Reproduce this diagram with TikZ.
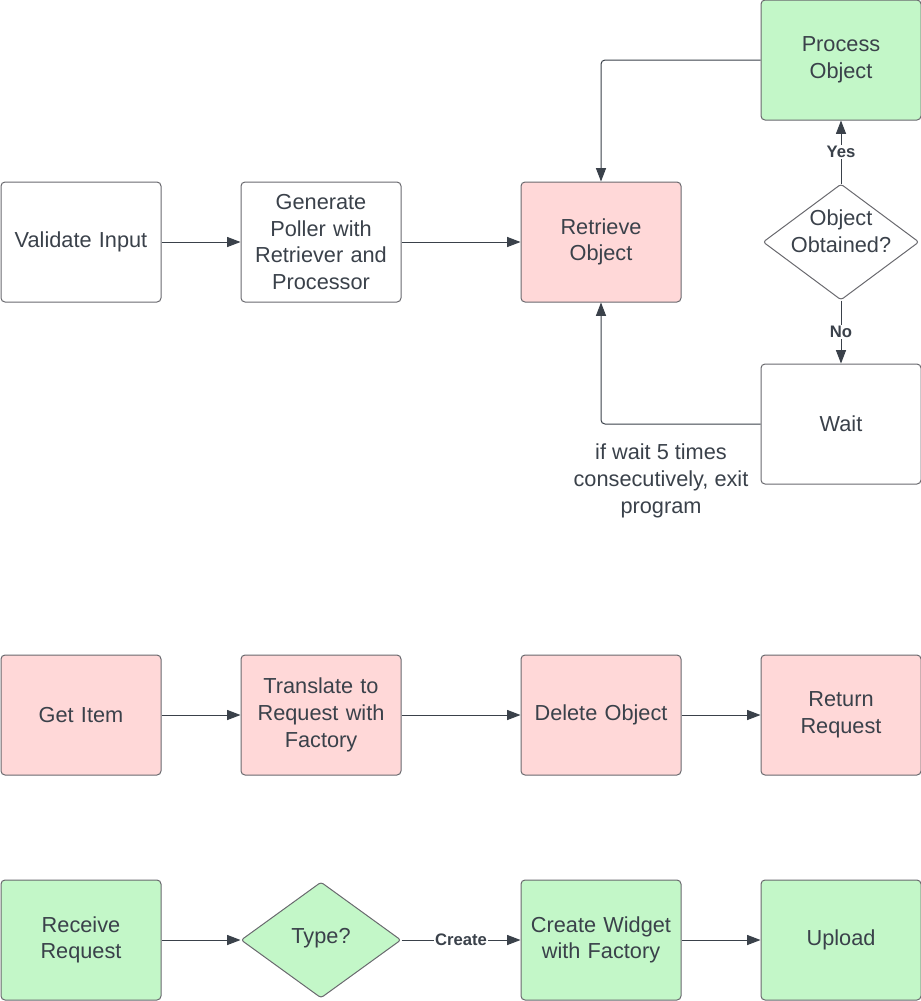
\documentclass[tikz,border=0pt]{standalone}
\usepackage{fontspec}
\setmainfont{Liberation Sans}
\usetikzlibrary{shapes.geometric,arrows.meta}
\definecolor{ink}{RGB}{58,65,74}
\definecolor{boxline}{RGB}{105,105,110}
\definecolor{rosefill}{RGB}{255,216,216}
\definecolor{mintfill}{RGB}{195,247,200}
\begin{document}
\begin{tikzpicture}[x=0.75pt,y=-0.75pt,
            every node/.style={text=ink, font=\fontsize{16.3}{20}\selectfont, align=center},
            stepbox/.style={draw=boxline, line width=0.75pt, rounded corners=3pt,
                minimum width=120pt, minimum height=90pt, text width=112pt, inner sep=2pt},
            choice/.style={diamond, draw=boxline, line width=0.75pt, rounded corners=2pt,
                inner sep=0pt},
            rose/.style={fill=rosefill},
            mint/.style={fill=mintfill},
            flow/.style={draw=ink, line width=0.75pt, -{Triangle[length=10pt,width=7.5pt]}},
            flag/.style={font=\bfseries\fontsize{12.5}{14}\selectfont, fill=white, inner sep=1pt}]
        \useasboundingbox (0,0) rectangle (921,1001);

        % poller
        \node[stepbox] (validate) at (81,242) {Validate Input};
        \node[stepbox] (poller) at (321,242) {Generate\\Poller with\\Retriever and\\Processor};
        \node[stepbox, rose] (retrieve) at (601,242) {Retrieve\\Object};
        \node[stepbox, mint] (process) at (841,60) {Process\\Object};
        \node[choice, minimum width=117pt, minimum height=87pt] (obtained) at (841,242) {};
        \node (obtainedtxt) at (841,231) {Object\\Obtained?};
        \node[stepbox] (wait) at (841,424) {Wait};
        \node (exitnote) at (661,481) {if wait 5 times\\consecutively, exit\\program};

        \draw[flow] (validate) -- (poller);
        \draw[flow] (poller) -- (retrieve);
        \draw[flow, rounded corners=3pt] (process.west) -| (retrieve.north);
        \draw[flow, rounded corners=3pt] (wait.west) -| (retrieve.south);
        \draw[flow] (obtained.north) -- node[flag] {Yes} (process.south);
        \draw[flow] (obtained.south) -- node[flag] {No} (wait.north);

        % retriever
        \node[stepbox, rose] (getitem) at (81,715) {Get Item};
        \node[stepbox, rose] (translate) at (321,715) {Translate to\\Request with\\Factory};
        \node[stepbox, rose] (delete) at (601,715) {Delete Object};
        \node[stepbox, rose] (return) at (841,715) {Return\\Request};

        \draw[flow] (getitem) -- (translate);
        \draw[flow] (translate) -- (delete);
        \draw[flow] (delete) -- (return);

        % processor
        \node[stepbox, mint] (receive) at (81,940) {Receive\\Request};
        \node[choice, mint, minimum width=120pt, minimum height=87pt] (type) at (321,940) {};
        \node (typetxt) at (321,938) {Type?};
        \node[stepbox, mint] (widget) at (601,940) {Create Widget\\with Factory};
        \node[stepbox, mint] (upload) at (841,940) {Upload};

        \draw[flow] (receive) -- (type);
        \draw[flow] (type.east) -- node[flag] {Create} (widget.west);
        \draw[flow] (widget) -- (upload);

\end{tikzpicture}
\end{document}
